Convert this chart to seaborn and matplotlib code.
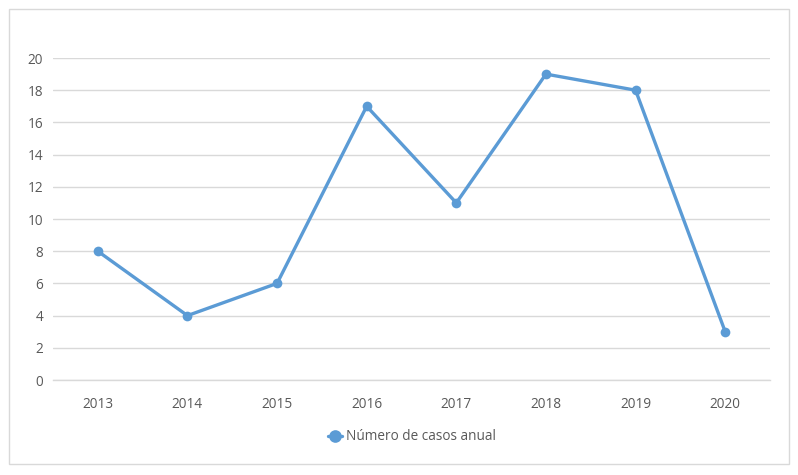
import matplotlib
matplotlib.use("Agg")
import matplotlib.pyplot as plt
import seaborn as sns
import pandas as pd
from matplotlib.patches import Rectangle

years = ["2013", "2014", "2015", "2016", "2017", "2018", "2019", "2020"]
cases = [8, 4, 6, 17, 11, 19, 18, 3]
series_name = "Número de casos anual"

df = pd.DataFrame({"Año": years, series_name: cases})

sns.set_theme(style="white")
plt.rcParams["font.family"] = ["Open Sans", "DejaVu Sans"]

fig = plt.figure(figsize=(7.98, 4.75), dpi=100)
ax = fig.add_axes([53/798, 1-380/475, (770-53)/798, (380-58)/475])

color = "#5B9BD5"
sns.lineplot(data=df, x="Año", y=series_name, ax=ax, color=color, linewidth=2.4,
             marker="o", markersize=7, markeredgewidth=0, sort=False,
             label=series_name, legend=False)

ax.set_xlim(-0.5, len(years) - 0.5)
ax.set_ylim(0, 20)
ax.set_yticks(range(0, 21, 2))
ax.grid(axis="y", color="#D9D9D9", linewidth=1)
ax.set_axisbelow(True)
for s in ["top", "right", "left"]:
    ax.spines[s].set_visible(False)
ax.spines["bottom"].set_color("#D9D9D9")
ax.spines["bottom"].set_linewidth(1)
ax.tick_params(axis="both", length=0, labelsize=9.8, labelcolor="#595959")
ax.tick_params(axis="x", pad=12)
ax.tick_params(axis="y", pad=7)
ax.set_xlabel("")
ax.set_ylabel("")

handles, labels = ax.get_legend_handles_labels()
fig.legend(handles, labels, loc="center", bbox_to_anchor=(412/798, 1-437/475),
           frameon=False, fontsize=9.8, labelcolor="#595959", handlelength=1.0,
           handletextpad=0.3, markerscale=1.3)

fig.patches.append(Rectangle((9/798, 1-464/475), (789-9)/798, (464-9)/475,
                             transform=fig.transFigure, fill=False,
                             edgecolor="#D9D9D9", linewidth=1))

fig.savefig("out.png", dpi=100, facecolor="white")
